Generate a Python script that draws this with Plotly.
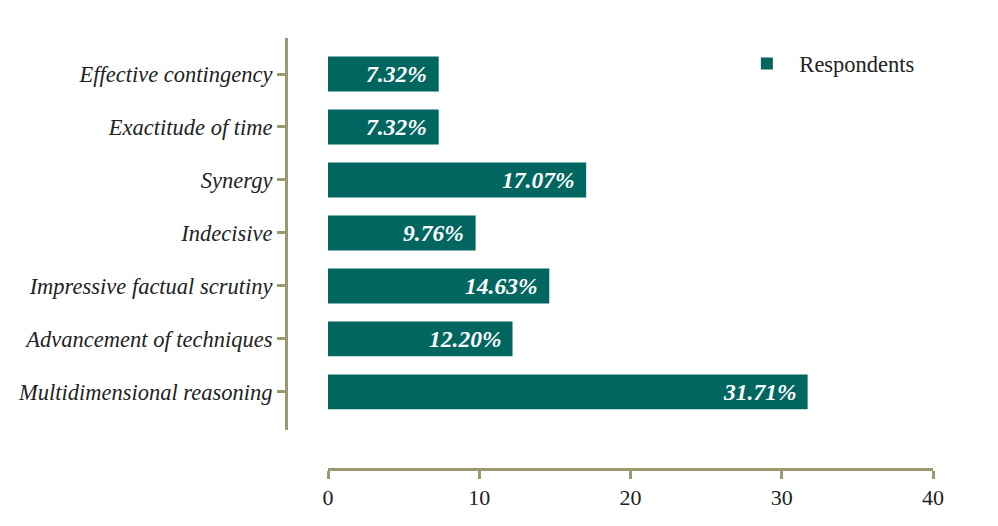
import plotly.graph_objects as go

categories = ["Multidimensional reasoning", "Advancement of techniques",
              "Impressive factual scrutiny", "Indecisive", "Synergy",
              "Exactitude of time", "Effective contingency"]
values = [31.71, 12.20, 14.63, 9.76, 17.07, 7.32, 7.32]
series_name = "Respondents"
x_ticks = [0, 10, 20, 30, 40]

BAR = "#00665F"
AXIS = "#9C9A6C"
FONT = "Times New Roman, Liberation Serif, serif"

fig = go.Figure()
fig.add_trace(go.Bar(
    y=categories, x=values, orientation="h", name=series_name,
    marker=dict(color=BAR, line=dict(width=0)), width=0.66,
    showlegend=True,
))

for c, v in zip(categories, values):
    fig.add_annotation(x=v, y=c, xref="x", yref="y", text=f"<b><i>{v:.2f}%</i></b>",
                       showarrow=False, xanchor="right", xshift=-10,
                       font=dict(family=FONT, size=23.5, color="white"))

fig.update_layout(
    width=998, height=526,
    margin=dict(l=278, r=73, t=30, b=65),
    paper_bgcolor="white", plot_bgcolor="white",
    font=dict(family=FONT, size=22.5, color="#222222"),
    xaxis=dict(domain=[42/647, 1], range=[0, 40], tickvals=x_ticks,
               showgrid=False, zeroline=False, showline=True, linecolor=AXIS,
               linewidth=3, ticks="outside", ticklen=8, tickwidth=3, tickcolor=AXIS,
               anchor="free", position=0, automargin=False,
               tickfont=dict(family=FONT, size=22, color="#222")),
    yaxis=dict(domain=[39/431, 1], range=[-0.72, 6.68], type="category",
               categoryorder="array", categoryarray=categories,
               showgrid=False, zeroline=False, showline=True, linecolor=AXIS,
               linewidth=3, ticks="outside", ticklen=8, tickwidth=3, tickcolor=AXIS,
               anchor="free", position=0, automargin=False,
               tickfont=dict(family=FONT, size=22.5, color="#222"),
               ticklabelstandoff=0),
    legend=dict(x=0.693, y=0.99, xanchor="left", yanchor="top",
                font=dict(family=FONT, size=22.5, color="#222"),
                itemwidth=55, bgcolor="rgba(0,0,0,0)"),
)
# italic y tick labels
fig.update_yaxes(ticktext=[f"<i>{c}</i>" for c in categories], tickvals=categories)

fig.write_html("out.html")
